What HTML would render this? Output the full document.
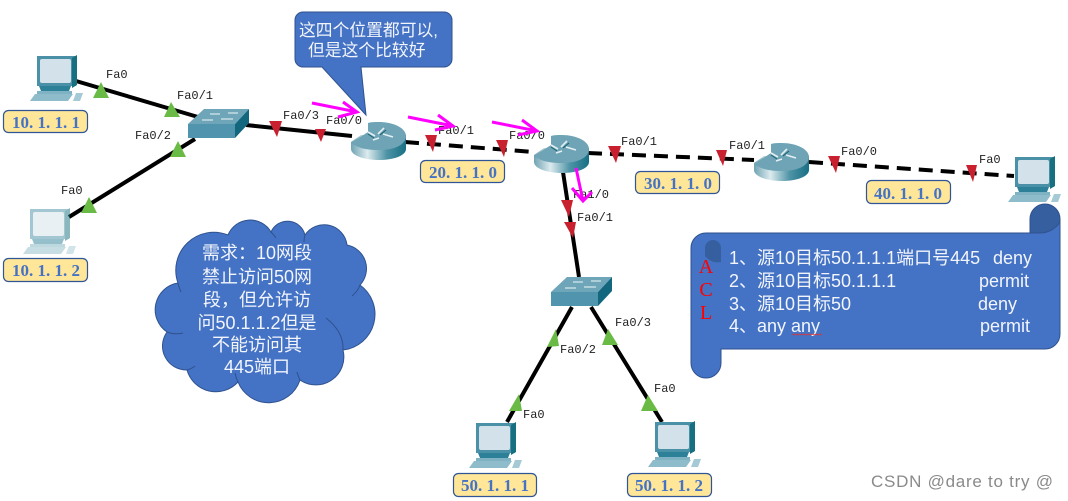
<!DOCTYPE html>
<html><head><meta charset="utf-8"><style>
html,body{margin:0;padding:0;background:#fff;width:1068px;height:501px;overflow:hidden}
svg{display:block}
.p{font:12px "Liberation Mono",monospace;fill:#222}
.y{fill:#FFE699;stroke:#2F5597;stroke-width:1.2}
.l{font:bold 17px "Liberation Serif",serif;fill:#4472C4;text-anchor:middle}
.w{font:18px "Liberation Sans","Noto Sans CJK SC",sans-serif;fill:#f2f5fb}
.s{font:16.8px "Liberation Sans","Noto Sans CJK SC",sans-serif;fill:#f2f5fb}
.c{text-anchor:middle}
.a{font:20px "Liberation Serif",serif;fill:#f00;text-anchor:middle}
</style></head><body>
<svg width="1068" height="501" viewBox="0 0 1068 501" xmlns="http://www.w3.org/2000/svg">
<defs>
<linearGradient id="cyl" x1="0" x2="1" y1="0" y2="0"><stop offset="0" stop-color="#6fa3b3"/><stop offset=".3" stop-color="#dcebee"/><stop offset=".65" stop-color="#4e93a6"/><stop offset="1" stop-color="#176f85"/></linearGradient>
<symbol id="pc" width="54" height="46" viewBox="0 0 54 46" overflow="visible">
<path d="M7 1H46V31H7Z" fill="#4a90a6"/><path d="M42 3L47 0V30L42 33Z" fill="#17707f"/>
<rect x="10" y="4" width="31" height="24" rx="2" fill="#d3e2ea"/>
<path d="M9 31H41L39 36H11Z" fill="#2c8098"/><path d="M7 36H42V39H7Z" fill="#7fb2c2"/>
<path d="M5 39H43L38 46H0Z" fill="#8ebccb"/><path d="M46 38H53L50 46H43Z" fill="#a5cad5"/>
</symbol>
<symbol id="sw" width="62" height="30" viewBox="0 0 62 30" overflow="visible">
<path d="M0 15L16 0H61L47 15Z" fill="#6ea5b8"/><path d="M0 15H47V29H0Z" fill="#5094ad"/><path d="M47 15L61 0V14L47 29Z" fill="#12677f"/>
<path d="M22 5H32M40 4H50M14 11H25M33 10H45" stroke="#d5e6ec" stroke-width="1.3"/>
</symbol>
<symbol id="rt" width="56" height="38" viewBox="0 0 56 38" overflow="visible">
<path d="M0 20V27C0 33 12 38 28 38S55 33 55 27V13H10Z" fill="url(#cyl)"/>
<path d="M0 21C8 27 18 28 28 28C45 28 55 22 55 14C55 6 42 0 28 0C24 0 20 0 17 1V10Z" fill="#6ea4b5"/>
<path d="M17 10L24 14M33 6L27 12M32 12L42 15M22 18L28 16" stroke="#e3eff3" stroke-width="1.6" fill="none"/>
<path d="M17 12L23 16M35 8L29 13" stroke="#1d6070" stroke-width="1" fill="none"/>
</symbol>
</defs>

<g stroke="#000" stroke-width="4" fill="none">
<path d="M76 81L198 117M69 217L195 139M246 125L352 136M563 172L579 277"/>
<path d="M572 307L507 422M591 307L662 422"/>
<path d="M405 142L534 152M588 153L754 160M809 162L1014 176" stroke-dasharray="14 8"/>
</g>

<g fill="#6ABB45">
<path d="M101 82L109 98H93Z"/><path d="M171 102L180 117H164Z"/><path d="M178 141L186 157H170Z"/><path d="M89 197L97 213H81Z"/>
<path d="M556 329L559 346L547 347Z"/><path d="M519 394L522 411L509 411Z"/><path d="M608 329L618 345H602Z"/><path d="M648 395L658 411H641Z"/>
</g>
<g fill="#C8202F">
<path d="M269 121H282L277 137Z"/><path d="M315 129H326L321 142Z"/><path d="M425 135H437L433 152Z"/><path d="M496 140H508L504 157Z"/>
<path d="M608 146H621L616 163Z"/><path d="M716 150H727L723 166Z"/><path d="M828 156H840L836 173Z"/><path d="M966 165H977L973 182Z"/>
<path d="M561 200H573L569 217Z"/><path d="M564 222H576L573 238Z"/>
</g>

<use href="#pc" x="30" y="55"/>
<use href="#pc" x="23" y="208" opacity=".5"/>
<use href="#pc" x="469" y="422"/>
<use href="#pc" x="648" y="421"/>
<use href="#pc" x="1008" y="156"/>
<use href="#sw" x="188" y="109"/>
<use href="#sw" x="551" y="277"/>
<use href="#rt" x="351" y="122"/>
<use href="#rt" x="534" y="135"/>
<use href="#rt" x="754" y="143"/>

<g class="p">
<text class="p" x="106" y="78">Fa0</text>
<text class="p" x="177" y="99">Fa0/1</text>
<text class="p" x="135" y="139">Fa0/2</text>
<text class="p" x="61" y="194">Fa0</text>
<text class="p" x="283" y="119">Fa0/3</text>
<text class="p" x="326" y="124">Fa0/0</text>
<text class="p" x="438" y="134">Fa0/1</text>
<text class="p" x="509" y="139">Fa0/0</text>
<text class="p" x="621" y="145">Fa0/1</text>
<text class="p" x="573" y="198">Fa1/0</text>
<text class="p" x="577" y="221">Fa0/1</text>
<text class="p" x="729" y="149">Fa0/1</text>
<text class="p" x="841" y="155">Fa0/0</text>
<text class="p" x="979" y="163">Fa0</text>
<text class="p" x="560" y="353">Fa0/2</text>
<text class="p" x="615" y="326">Fa0/3</text>
<text class="p" x="654" y="392">Fa0</text>
<text class="p" x="523" y="418">Fa0</text>
</g>

<rect class="y" x="3.5" y="110.5" width="84" height="22" rx="5"/><text class="l" x="46" y="128">10. 1. 1. 1</text>
<rect class="y" x="3.5" y="258.5" width="84" height="23" rx="5"/><text class="l" x="46" y="276">10. 1. 1. 2</text>
<rect class="y" x="420.5" y="160.5" width="84" height="22" rx="5"/><text class="l" x="463" y="178">20. 1. 1. 0</text>
<rect class="y" x="635.5" y="171.5" width="84" height="22" rx="5"/><text class="l" x="678" y="189">30. 1. 1. 0</text>
<rect class="y" x="866.5" y="180.5" width="84" height="23" rx="5"/><text class="l" x="908" y="199">40. 1. 1. 0</text>
<rect class="y" x="453.5" y="473.5" width="83" height="23" rx="5"/><text class="l" x="495" y="491">50. 1. 1. 1</text>
<rect class="y" x="627.5" y="473.5" width="84" height="23" rx="5"/><text class="l" x="669" y="491">50. 1. 1. 2</text>

<path d="M303 12H444A8 8 0 0 1 452 20V59A8 8 0 0 1 444 67H361L366 115L322 67H303A8 8 0 0 1 295 59V20A8 8 0 0 1 303 12Z" fill="#4472C4" stroke="#2F528F"/>
<text class="s" x="299" y="36">这四个位置都可以,</text>
<text class="s" x="308" y="56">但是这个比较好</text>

<g stroke="#FF00FF" stroke-width="3" fill="none">
<path d="M312 103L357 112M343 102L357 112L338 117"/>
<path d="M408 117L453 126M438 115L453 126L435 130"/>
<path d="M492 122L537 131M522 120L537 131L518 135"/>
<path d="M576 168L583 201M572 188L583 201L592 192"/>
</g>

<path d="M178 283A38 38 0 0 1 228 235A24 24 0 0 1 271 232A18 18 0 0 1 305 235A23 23 0 0 1 347 245A24 24 0 0 1 360 285A36 36 0 0 1 343 350A28 28 0 0 1 300 380A33 33 0 0 1 238 382A30 30 0 0 1 187 370A24 24 0 0 1 167 332A27 27 0 0 1 178 283Z" fill="#4472C4" stroke="#2F528F"/>
<path d="M178 283Q179 288 181 292M167 332Q174 335 183 333M187 370Q191 369 195 366M238 382Q236 378 235 373M300 380Q298 376 297 372M343 350Q344 332 326 318M360 285Q358 291 352 296M305 235Q304 238 304 242M271 232Q274 235 276 238" fill="none" stroke="#2F528F"/>
<text class="w c" x="257" y="259">需求：10网段</text>
<text class="w c" x="257" y="283">禁止访问50网</text>
<text class="w c" x="257" y="306">段，但允许访</text>
<text class="w c" x="257" y="329">问50.1.1.2但是</text>
<text class="w c" x="257" y="351">不能访问其</text>
<text class="w c" x="257" y="373">445端口</text>

<path d="M1030 233V219A15 15 0 0 1 1045 204A15 15 0 0 1 1060 219V233Z" fill="#365F9F" stroke="#2F528F"/>
<path d="M706 233H1040C1050 233 1060 226 1060 219V334A15 15 0 0 1 1045 349H721V363A15 15 0 0 1 691 363V248A15 15 0 0 1 706 233Z" fill="#4472C4" stroke="#2F528F"/>
<path d="M721 262V248A8 8 0 0 0 705 248V256C710 262 716 263 721 262Z" fill="#365F9F"/>
<text class="w" x="729" y="264">1、源10目标50.1.1.1端口号445</text><text class="w" x="993" y="264">deny</text>
<text class="w" x="729" y="287">2、源10目标50.1.1.1</text><text class="w" x="979" y="287">permit</text>
<text class="w" x="729" y="310">3、源10目标50</text><text class="w" x="978" y="310">deny</text>
<text class="w" x="729" y="332">4、any any</text><text class="w" x="980" y="332">permit</text>
<path d="M792 334l2 1 2-1 2 1 2-1 2 1 2-1 2 1 2-1 2 1 2-1 2 1 2-1 2 1 2-1 2 1" stroke="#d33" fill="none" stroke-width=".8"/>
<text class="a" x="706" y="273">A</text><text class="a" x="706" y="296">C</text><text class="a" x="706" y="319">L</text>

<text x="871" y="487" font-family="Liberation Sans, sans-serif" font-size="17" fill="#8a8a8a" textLength="182">CSDN @dare to try @</text>
</svg>
</body></html>
